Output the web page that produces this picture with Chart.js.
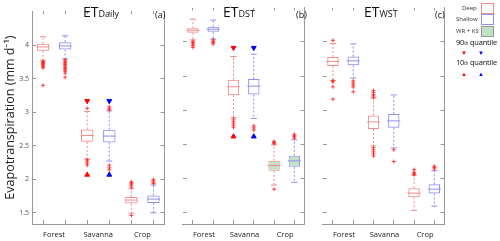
<!DOCTYPE html>
<html>
<head>
<meta charset="utf-8">
<script src="https://cdn.jsdelivr.net/npm/chart.js@4.4.1/dist/chart.umd.min.js"></script>
<style>
body { margin: 0; width: 500px; height: 241px; position: relative; background: #fff; overflow: hidden; font-family: "Open Sans", sans-serif; color: #111; }
canvas { position: absolute; top: 0; }
.ttl { position: absolute; top: 2px; font-size: 14px; white-space: nowrap; }
.ttl small { font-size: 9px; }
.tag { position: absolute; top: 8px; font-size: 9px; }
.lg { position: absolute; font-size: 6px; color: #333; white-space: nowrap; }
.sw { position: absolute; width: 11px; height: 9px; border: 1px solid; }
.q { position: absolute; left: 456px; font-size: 7.5px; white-space: nowrap; letter-spacing: -0.2px; }
.q small { font-size: 4.5px; }
.tri { position: absolute; font-size: 6px; line-height: 6px; }
</style>
</head>
<body>
<canvas id="pa" width="172" height="241" style="left:0"></canvas>
<canvas id="pb" width="141" height="241" style="left:171px"></canvas>
<canvas id="pc" width="141" height="241" style="left:311px"></canvas>

<div class="ttl" style="left:83px">ET<small>Daily</small></div>
<div class="tag" style="left:155px">(a)</div>
<div class="ttl" style="left:223px">ET<small>DST</small></div>
<div class="tag" style="left:296px">(b)</div>
<div class="ttl" style="left:364px">ET<small>WST</small></div>
<div class="tag" style="left:435px">(c)</div>

<div class="lg" style="left:462px;top:4px">Deep</div>
<div class="sw" style="left:481px;top:3px;border-color:#f28b8b"></div>
<div class="lg" style="left:456px;top:15px">Shallow</div>
<div class="sw" style="left:481px;top:14px;border-color:#8f8ff0"></div>
<div class="lg" style="left:456px;top:27px">WR + KS</div>
<div class="sw" style="left:481px;top:26px;border-color:#999;background:#c2e2c6"></div>
<div class="q" style="top:37px">90<small>th</small> quantile</div>
<div class="tri" style="left:461px;top:50px;color:#f00">▼</div>
<div class="tri" style="left:478px;top:50px;color:#00f">▼</div>
<div class="q" style="top:57px">10<small>th</small> quantile</div>
<div class="tri" style="left:461px;top:71px;color:#f00">▲</div>
<div class="tri" style="left:478px;top:71px;color:#00f">▲</div>

<script>
const groups = ['Forest', 'Savanna', 'Crop'];
const series = ['Deep', 'Shallow'];
const yTicks = [1.5, 2, 2.5, 3, 3.5, 4];

// each row: [lower whisker, q1, median, q3, upper whisker], one row per group
const dailyDeep = [[3.771, 3.914, 3.971, 4.019, 4.123], [2.304, 2.557, 2.652, 2.743, 3.009], [1.494, 1.637, 1.690, 1.737, 1.857]];
const dailyShallow = [[3.794, 3.933, 3.986, 4.043, 4.137], [2.271, 2.547, 2.643, 2.738, 3.019], [1.500, 1.647, 1.704, 1.757, 1.914]];
const dailyDeepOut = [[3.755, 3.74, 3.725, 3.71, 3.69, 3.675, 3.66, 3.40], [3.057, 2.29, 2.27, 2.24, 2.21], [1.96, 1.945, 1.93, 1.91, 1.88, 1.46]];
const dailyShallowOut = [[3.78, 3.76, 3.745, 3.73, 3.71, 3.69, 3.67, 3.65, 3.63, 3.61, 3.58, 3.52], [3.08, 3.05, 3.035, 2.21, 2.17, 2.14], [1.995, 1.975, 1.955, 1.937]];
const dailyP90 = [null, 3.166, null];
const dailyP10 = [null, 2.066, null];

const dstDeep = [[4.029, 4.133, 4.171, 4.200, 4.333], [2.890, 3.219, 3.343, 3.447, 3.786], [1.904, 2.114, 2.190, 2.261, 2.494]];
const dstShallow = [[4.043, 4.147, 4.186, 4.223, 4.319], [2.880, 3.229, 3.352, 3.457, 3.819], [1.943, 2.171, 2.257, 2.333, 2.566]];
const dstDeepOut = [[4.01, 3.99, 3.97, 3.95, 3.92], [2.87, 2.84, 2.81, 2.78, 2.75], [2.543, 2.525, 2.51, 1.843]];
const dstShallowOut = [[4.03, 4.01, 3.99, 3.97], [2.77, 2.74, 2.71], [2.647, 2.625, 2.61, 2.59]];
const dstP90 = [null, 3.914, null];
const dstP10 = [null, 2.614, null];

const wstDeep = [[3.437, 3.647, 3.714, 3.780, 3.976], [2.476, 2.723, 2.829, 2.923, 3.176], [1.533, 1.723, 1.786, 1.857, 2.047]];
const wstShallow = [[3.471, 3.657, 3.723, 3.786, 3.971], [2.447, 2.743, 2.843, 2.943, 3.223], [1.594, 1.780, 1.843, 1.914, 2.114]];
const wstDeepOut = [[4.023, 3.43, 3.415, 3.343, 3.161], [3.286, 3.26, 3.23, 3.21, 3.19, 2.45, 2.42, 2.39, 2.36, 2.33], [2.13, 2.09, 2.07, 2.055]];
const wstShallowOut = [[3.43, 3.40, 3.37, 3.34, 3.27], [2.42, 2.247], [2.18, 2.16, 2.14]];
const wstP90 = [null, null, null];
const wstP10 = [null, null, null];

const slots = groups.flatMap(g => series.map(s => g + ' ' + s));
const lineCol = ['#f28b8b', '#8f8ff0'];
const markCol = ['#ff0000', '#0000ff'];
const outCol = 'rgba(255,30,30,0.8)';
const greenFill = '#c2e2c6';
const axisCol = '#999';

Chart.defaults.font.family = "'Open Sans', sans-serif";

const pts = (list) => list.filter(p => p.y !== null && p.y !== undefined);

function seriesSets(si, stats, outs, p90, p10, fillGroups) {
    const at = gi => slots[gi * 2 + si];
    const col = lineCol[si];
    return [
        {   // outliers
            type: 'line', showLine: false, order: 1,
            data: outs.flatMap((o, gi) => o.map(v => ({x: at(gi), y: v}))),
            pointStyle: 'cross', pointRadius: 2, pointBorderColor: outCol, pointBorderWidth: 1
        },
        {   // 90th quantile
            type: 'line', showLine: false, order: 1,
            data: pts(p90.map((v, gi) => ({x: at(gi), y: v}))),
            pointStyle: 'triangle', pointRotation: 180, pointRadius: 2.8,
            pointBackgroundColor: markCol[si], pointBorderColor: markCol[si], pointBorderWidth: 1
        },
        {   // 10th quantile
            type: 'line', showLine: false, order: 1,
            data: pts(p10.map((v, gi) => ({x: at(gi), y: v}))),
            pointStyle: 'triangle', pointRadius: 2.8,
            pointBackgroundColor: markCol[si], pointBorderColor: markCol[si], pointBorderWidth: 1
        },
        {   // medians
            type: 'line', showLine: false, order: 2,
            data: stats.map((s, gi) => ({x: at(gi), y: s[2]})),
            pointStyle: 'line', pointRadius: 6.5, pointBorderColor: col, pointBorderWidth: 1
        },
        {   // whisker caps
            type: 'line', showLine: false, order: 3,
            data: stats.flatMap((s, gi) => [{x: at(gi), y: s[0]}, {x: at(gi), y: s[4]}]),
            pointStyle: 'line', pointRadius: 3, pointBorderColor: col, pointBorderWidth: 1
        },
        {   // whiskers
            type: 'line', order: 4, spanGaps: false, pointRadius: 0,
            borderColor: col, borderWidth: 1, borderDash: [2, 2],
            data: stats.flatMap((s, gi) => [
                {x: at(gi), y: s[3]}, {x: at(gi), y: s[4]}, {x: at(gi), y: null},
                {x: at(gi), y: s[1]}, {x: at(gi), y: s[0]}, {x: at(gi), y: null}
            ])
        },
        {   // boxes
            type: 'bar', order: 5, grouped: false,
            data: stats.map((s, gi) => ({x: at(gi), y: [s[1], s[3]]})),
            backgroundColor: stats.map((s, gi) => fillGroups.includes(gi) ? greenFill : 'rgba(0,0,0,0)'),
            borderColor: col, borderWidth: 1, borderSkipped: false,
            barPercentage: 0.56, categoryPercentage: 1
        }
    ];
}

function makePanel(id, deep, shallow, deepOut, shallowOut, p90, p10, first, fillGroups) {
    const fixW = w => s => { s.width = w; };
    const fixH = h => s => { s.height = h; };
    const setTicks = s => { s.ticks = yTicks.map(v => ({value: v})); };
    new Chart(document.getElementById(id), {
        type: 'bar',
        data: {
            labels: slots,
            datasets: [
                ...seriesSets(0, deep, deepOut, p90, p10, fillGroups),
                ...seriesSets(1, shallow, shallowOut, p90, p10, fillGroups)
            ]
        },
        options: {
            responsive: false,
            animation: false,
            devicePixelRatio: 1,
            events: [],
            layout: {padding: 0},
            plugins: {legend: {display: false}, tooltip: {enabled: false}},
            scales: {
                x: {
                    type: 'category', position: 'bottom', offset: true,
                    ticks: {
                        autoSkip: false, maxRotation: 0, minRotation: 0,
                        font: {size: 7.5}, color: '#222', padding: 10, labelOffset: 11,
                        callback: (v, i) => i % 2 === 0 ? groups[i / 2] : ''
                    },
                    grid: {offset: false, drawOnChartArea: false, tickLength: -4, color: axisCol},
                    border: {display: true, color: axisCol},
                    afterFit: fixH(17)
                },
                xt: {
                    type: 'category', position: 'top', offset: true,
                    labels: slots,
                    ticks: {display: false},
                    grid: {offset: false, drawOnChartArea: false, tickLength: -3, color: axisCol},
                    border: {display: false},
                    afterFit: fixH(2)
                },
                y: {
                    type: 'linear', position: 'left', min: 1.333, max: 4.504,
                    afterBuildTicks: setTicks,
                    ticks: {display: first, font: {size: 7}, color: '#555', padding: 7, callback: v => String(v)},
                    grid: {drawOnChartArea: false, tickLength: -4, color: axisCol},
                    border: {display: first, color: axisCol},
                    title: {
                        display: first, text: 'Evapotranspiration (mm d⁻¹)',
                        font: {size: 12.5}, color: '#222', padding: {top: 3, bottom: 0}
                    },
                    afterFit: fixW(first ? 32 : 0)
                },
                yr: {
                    type: 'linear', position: 'right', min: 1.333, max: 4.504,
                    afterBuildTicks: setTicks,
                    ticks: {display: false},
                    grid: {drawOnChartArea: false, tickLength: -4, color: axisCol},
                    border: {display: true, color: axisCol},
                    afterFit: fixW(1)
                }
            }
        }
    });
}

makePanel('pa', dailyDeep, dailyShallow, dailyDeepOut, dailyShallowOut, dailyP90, dailyP10, true, []);
makePanel('pb', dstDeep, dstShallow, dstDeepOut, dstShallowOut, dstP90, dstP10, false, [2]);
makePanel('pc', wstDeep, wstShallow, wstDeepOut, wstShallowOut, wstP90, wstP10, false, []);
</script>
</body>
</html>
